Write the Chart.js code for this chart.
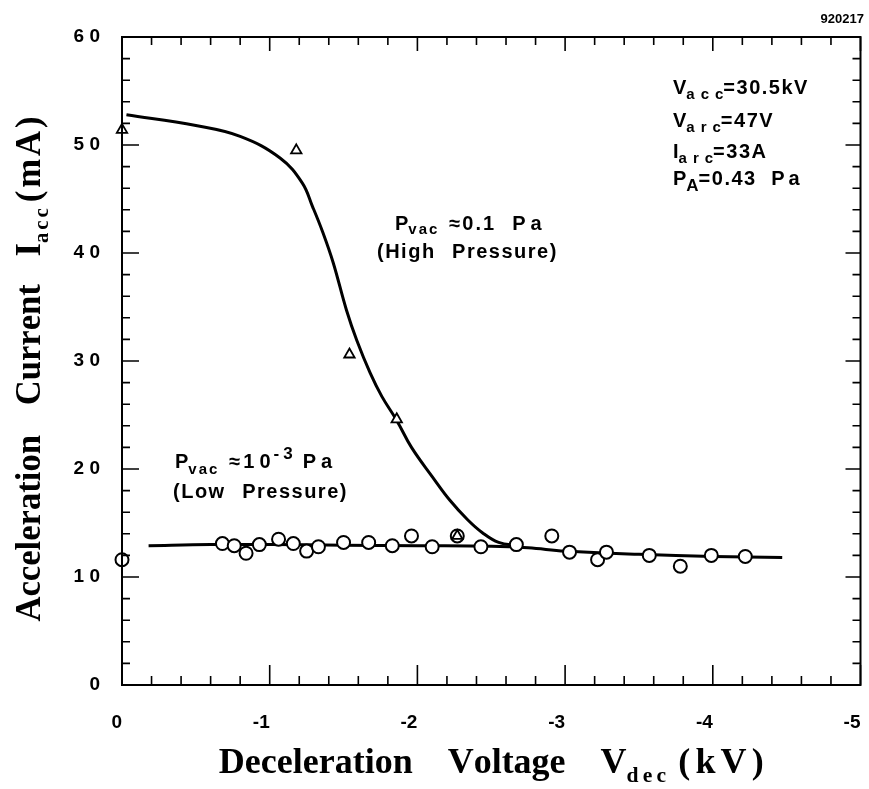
<!DOCTYPE html>
<html>
<head>
<meta charset="utf-8">
<script src="https://cdn.jsdelivr.net/npm/chart.js@4.4.1/dist/chart.umd.min.js"></script>
<style>
  body { margin: 0; background: #fff; }
  #wrap { width: 869px; height: 789px; }
</style>
</head>
<body>
<div id="wrap"><canvas id="chart" width="869" height="789"></canvas></div>
<script>
// measured points, P_vac ~ 0.1 Pa (triangles)
const hpVoltage = [0, -1.18, -1.54, -1.86, -2.27];
const hpCurrent = [51.4, 49.5, 30.6, 24.6, 13.8];

// measured points, P_vac ~ 1e-3 Pa (circles)
const lpVoltage = [0, -0.68, -0.76, -0.84, -0.93, -1.06, -1.16, -1.25, -1.33, -1.50, -1.67, -1.83, -1.96,
  -2.10, -2.27, -2.43, -2.67, -2.91, -3.03, -3.22, -3.28, -3.57, -3.78, -3.99, -4.22];
const lpCurrent = [11.6, 13.1, 12.9, 12.2, 13.0, 13.5, 13.1, 12.4, 12.8, 13.2, 13.2, 12.9, 13.8,
  12.8, 13.8, 12.8, 13.0, 13.8, 12.3, 11.6, 12.3, 12.0, 11.0, 12.0, 11.9];

// hand drawn curves
const hpCurveV = [-0.03, -0.5, -0.8, -1.07, -1.22, -1.29, -1.36, -1.43, -1.52, -1.59, -1.68, -1.76, -1.86,
  -1.96, -2.1, -2.22, -2.34, -2.44, -2.55, -2.68];
const hpCurveI = [52.8, 51.8, 50.8, 48.8, 46.5, 44.3, 41.9, 39.1, 34.7, 31.9, 28.9, 26.7, 24.5,
  22.0, 19.3, 17.1, 15.3, 14.1, 13.2, 12.9];
const lpCurveV = [-0.18, -0.6, -1.0, -1.5, -2.0, -2.5, -2.75, -3.0, -3.5, -4.0, -4.47];
const lpCurveI = [12.9, 13.0, 13.0, 12.95, 12.9, 12.85, 12.7, 12.4, 12.1, 11.9, 11.8];

const xTicks = [0, -1, -2, -3, -4, -5];
const yTicks = [0, 10, 20, 30, 40, 50, 60];

const pts = (xs, ys) => xs.map((x, i) => ({ x: x, y: ys[i] }));

const SANS = '"Liberation Sans", Arial, sans-serif';
const SERIF = '"Liberation Serif", "DejaVu Serif", serif';

function runWidth(ctx, runs) {
  let w = 0;
  runs.forEach((r) => {
    if (r.gap) { w += r.gap; return; }
    ctx.font = r.f;
    const ls = r.ls || 0;
    for (const ch of r.t) w += ctx.measureText(ch).width + ls;
    w -= ls;
  });
  return w;
}

function drawRuns(ctx, x, y, runs) {
  runs.forEach((r) => {
    if (r.gap) { x += r.gap; return; }
    ctx.font = r.f;
    const ls = r.ls || 0;
    for (const ch of r.t) {
      ctx.fillText(ch, x, y + (r.dy || 0));
      x += ctx.measureText(ch).width + ls;
    }
    x -= ls;
  });
  return x;
}

// axis title drawn condensed and centred on the plot
function drawTitle(ctx, runs, cx, cy, length, rotate) {
  ctx.save();
  ctx.translate(cx, cy);
  if (rotate) ctx.rotate(-Math.PI / 2);
  const w = runWidth(ctx, runs);
  ctx.scale(length / w, 1);
  drawRuns(ctx, -w / 2, 0, runs);
  ctx.restore();
}

const frame = {
  id: 'frame',
  afterDraw(chart) {
    const ctx = chart.ctx;
    const a = chart.chartArea;
    const xs = chart.scales.x, ys = chart.scales.y;
    ctx.save();
    ctx.strokeStyle = '#000';
    ctx.fillStyle = '#000';
    ctx.lineWidth = 2;
    ctx.strokeRect(a.left, a.top, a.right - a.left, a.bottom - a.top);

    // inward ticks on all four sides
    ctx.lineWidth = 1.6;
    ctx.beginPath();
    for (let i = 0; i <= 25; i++) {
      const px = xs.getPixelForValue(-i * 0.2);
      const major = i % 5 === 0;
      ctx.moveTo(px, a.bottom); ctx.lineTo(px, a.bottom - (major ? 20 : 9));
      ctx.moveTo(px, a.top); ctx.lineTo(px, a.top + (major ? 14 : 8));
    }
    for (let i = 0; i <= 30; i++) {
      const py = ys.getPixelForValue(i * 2);
      const major = i % 5 === 0;
      ctx.moveTo(a.left, py); ctx.lineTo(a.left + (major ? 17 : 8), py);
      ctx.moveTo(a.right, py); ctx.lineTo(a.right - (major ? 15 : 8), py);
    }
    ctx.stroke();

    ctx.textBaseline = 'alphabetic';
    ctx.textAlign = 'left';

    // axis titles
    const tF = 'bold 35px ' + SERIF;
    const sF = 'bold 21px ' + SERIF;
    drawTitle(ctx, [
      { t: 'Acceleration', f: tF }, { gap: 30 }, { t: 'Current', f: tF }, { gap: 28 },
      { t: 'I', f: tF }, { t: 'acc', f: sF, dy: 8, ls: 3 }, { gap: 6 }, { t: '(mA)', f: tF, ls: 3 }
    ], 40, (a.top + a.bottom) / 2 + 8, 505, true);
    drawTitle(ctx, [
      { t: 'Deceleration', f: tF }, { gap: 34 }, { t: 'Voltage', f: tF }, { gap: 34 },
      { t: 'V', f: tF }, { t: 'dec', f: sF, dy: 9, ls: 4 }, { gap: 12 }, { t: '(kV)', f: tF, ls: 5 }
    ], (a.left + a.right) / 2, 773, 545, false);

    // annotations
    const A = 'bold 20px ' + SANS;
    const S = 'bold 15px ' + SANS;
    drawRuns(ctx, 673, 94, [{ t: 'V', f: A }, { t: 'acc', f: S, dy: 5, ls: 6 }, { t: '=30.5kV', f: A, ls: 1.5 }]);
    drawRuns(ctx, 673, 127, [{ t: 'V', f: A }, { t: 'arc', f: S, dy: 5, ls: 6 }, { t: '=47V', f: A, ls: 1.5 }]);
    drawRuns(ctx, 673, 158, [{ t: 'I', f: A }, { t: 'arc', f: S, dy: 5, ls: 6 }, { t: '=33A', f: A, ls: 1.5 }]);
    drawRuns(ctx, 673, 185, [{ t: 'P', f: A }, { t: 'A', f: 'bold 17px ' + SANS, dy: 6 }, { t: '=0.43', f: A, ls: 1.5 }, { gap: 16 }, { t: 'Pa', f: A, ls: 4 }]);

    drawRuns(ctx, 395, 230, [{ t: 'P', f: A }, { t: 'vac', f: S, dy: 4, ls: 2 }, { gap: 12 }, { t: '\u22480.1', f: A, ls: 2 }, { gap: 18 }, { t: 'Pa', f: A, ls: 5 }]);
    drawRuns(ctx, 377, 258, [{ t: '(High', f: A, ls: 1.5 }, { gap: 18 }, { t: 'Pressure)', f: A, ls: 1.5 }]);
    drawRuns(ctx, 175, 468, [{ t: 'P', f: A }, { t: 'vac', f: S, dy: 6, ls: 2 }, { gap: 12 }, { t: '\u2248', f: A }, { gap: 3 }, { t: '10', f: A, ls: 5 },
      { gap: 3 }, { t: '-3', f: 'bold 17px ' + SANS, dy: -9, ls: 4 }, { gap: 10 }, { t: 'Pa', f: A, ls: 5 }]);
    drawRuns(ctx, 173, 498, [{ t: '(Low', f: A, ls: 1.5 }, { gap: 18 }, { t: 'Pressure)', f: A, ls: 1.5 }]);

    ctx.textAlign = 'right';
    ctx.font = 'bold 13px ' + SANS;
    ctx.fillText('920217', 864, 23);
    ctx.restore();
  }
};

const tickFont = { family: SANS, size: 19, weight: 'bold' };

new Chart(document.getElementById('chart'), {
  type: 'scatter',
  data: {
    datasets: [
      {
        data: pts(hpVoltage, hpCurrent), pointStyle: 'triangle', pointRadius: 6,
        backgroundColor: '#fff', borderColor: '#000', borderWidth: 1.8, clip: false
      },
      {
        data: pts(lpVoltage, lpCurrent), pointStyle: 'circle', pointRadius: 6.5,
        backgroundColor: '#fff', borderColor: '#000', borderWidth: 2, clip: false
      },
      {
        data: pts(hpCurveV, hpCurveI), showLine: true, tension: 0.4, pointRadius: 0,
        borderColor: '#000', borderWidth: 3
      },
      {
        data: pts(lpCurveV, lpCurveI), showLine: true, tension: 0.4, pointRadius: 0,
        borderColor: '#000', borderWidth: 3
      }
    ]
  },
  options: {
    responsive: false,
    animation: false,
    layout: { padding: { top: 37, right: 5, left: 0, bottom: 0 } },
    plugins: { legend: { display: false }, tooltip: { enabled: false } },
    scales: {
      x: {
        type: 'linear', min: -5, max: 0, reverse: true,
        border: { display: false },
        grid: { display: false, drawTicks: false },
        afterBuildTicks: (s) => { s.ticks = xTicks.map((v) => ({ value: v })); },
        ticks: { font: tickFont, color: '#000', padding: 26, maxRotation: 0, align: 'end', callback: (v) => String(v) },
        afterFit: (s) => { s.height = 104; s.paddingLeft = 0; s.paddingRight = 0; }
      },
      y: {
        min: 0, max: 60,
        border: { display: false },
        grid: { display: false, drawTicks: false },
        afterBuildTicks: (s) => { s.ticks = yTicks.map((v) => ({ value: v })); },
        ticks: { font: tickFont, color: '#000', padding: 22, callback: (v) => String(v).split('').join(' ') },
        afterFit: (s) => { s.width = 122; s.paddingTop = 0; s.paddingBottom = 0; }
      }
    }
  },
  plugins: [frame]
});
</script>
</body>
</html>
